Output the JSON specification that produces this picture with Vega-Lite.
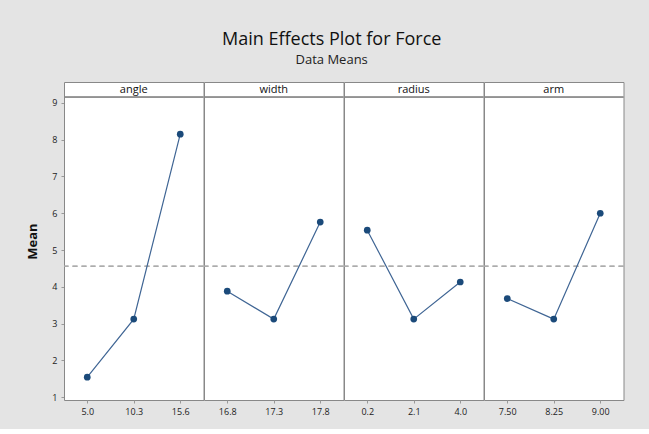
{
  "$schema": "https://vega.github.io/schema/vega-lite/v6.json",
  "padding": {"left": 26, "top": 30, "right": 26, "bottom": 12},
  "background": "#e4e4e4",
  "bounds": "flush",
  "title": {
    "text": "Main Effects Plot for Force",
    "subtitle": "Data Means",
    "fontSize": 18,
    "fontWeight": "normal",
    "font": "Open Sans",
    "subtitleFont": "Open Sans",
    "subtitleFontSize": 13,
    "subtitleColor": "#222",
    "color": "#111",
    "anchor": "middle",
    "offset": 15,
    "dx": 6,
    "subtitlePadding": 5
  },
  "data": {
    "values": [
      {"factor": "angle", "level": "5.0", "ord": 1, "mean": 1.54},
      {"factor": "angle", "level": "10.3", "ord": 2, "mean": 3.12},
      {"factor": "angle", "level": "15.6", "ord": 3, "mean": 8.15},
      {"factor": "width", "level": "16.8", "ord": 1, "mean": 3.88},
      {"factor": "width", "level": "17.3", "ord": 2, "mean": 3.12},
      {"factor": "width", "level": "17.8", "ord": 3, "mean": 5.76},
      {"factor": "radius", "level": "0.2", "ord": 1, "mean": 5.54},
      {"factor": "radius", "level": "2.1", "ord": 2, "mean": 3.12},
      {"factor": "radius", "level": "4.0", "ord": 3, "mean": 4.13},
      {"factor": "arm", "level": "7.50", "ord": 1, "mean": 3.68},
      {"factor": "arm", "level": "8.25", "ord": 2, "mean": 3.12},
      {"factor": "arm", "level": "9.00", "ord": 3, "mean": 6.0}
    ]
  },
  "facet": {
    "column": {
      "field": "factor",
      "type": "nominal",
      "sort": ["angle", "width", "radius", "arm"],
      "header": {"labels": false, "title": null}
    }
  },
  "spacing": 0,
  "resolve": {"scale": {"x": "independent"}},
  "spec": {
    "width": 139.5,
    "height": 318,
    "encoding": {
      "x": {
        "field": "level",
        "type": "nominal",
        "sort": {"field": "ord"},
        "scale": {"type": "point", "padding": 0.5},
        "axis": {
          "title": null,
          "labelAngle": 0,
          "domain": false,
          "tickSize": 3,
          "tickColor": "#999",
          "labelFontSize": 9,
          "labelFont": "Open Sans",
          "labelColor": "#222",
          "labelPadding": 4
        }
      },
      "y": {
        "type": "quantitative",
        "scale": {"domain": [0.92, 9.57], "nice": false, "zero": false},
        "axis": {
          "title": "Mean",
          "titleFont": "Open Sans",
          "titleFontSize": 13,
          "titleFontWeight": "bold",
          "titleColor": "#111",
          "values": [1, 2, 3, 4, 5, 6, 7, 8, 9],
          "labelOverlap": false,
          "grid": false,
          "domain": false,
          "tickSize": 3,
          "tickColor": "#999",
          "labelFontSize": 9,
          "labelFont": "Open Sans",
          "labelColor": "#222",
          "labelPadding": 4,
          "titlePadding": 12
        }
      }
    },
    "layer": [
      {
        "mark": {"type": "rule", "color": "#aaa", "strokeWidth": 1, "strokeDash": [5, 4]},
        "encoding": {"x": null, "y": {"datum": 4.56, "type": "quantitative"}}
      },
      {
        "mark": {"type": "rule", "color": "#888", "strokeWidth": 1},
        "encoding": {"x": null, "y": {"datum": 9.16, "type": "quantitative"}}
      },
      {
        "transform": [{"filter": "datum.ord == 1"}],
        "mark": {"type": "text", "font": "Open Sans", "fontSize": 11, "color": "#111", "baseline": "middle"},
        "encoding": {"x": null, "y": {"datum": 9.36, "type": "quantitative"}, "text": {"field": "factor"}}
      },
      {
        "mark": {"type": "line", "color": "#3f6594", "strokeWidth": 1.2},
        "encoding": {"y": {"field": "mean", "type": "quantitative"}}
      },
      {
        "mark": {"type": "point", "filled": true, "color": "#1b4a7a", "size": 45, "opacity": 1},
        "encoding": {"y": {"field": "mean", "type": "quantitative"}}
      }
    ]
  },
  "config": {
    "view": {"stroke": "#888", "strokeWidth": 1, "fill": "white"},
    "axisY": {"labelOverlap": false},
    "font": "Open Sans"
  }
}
